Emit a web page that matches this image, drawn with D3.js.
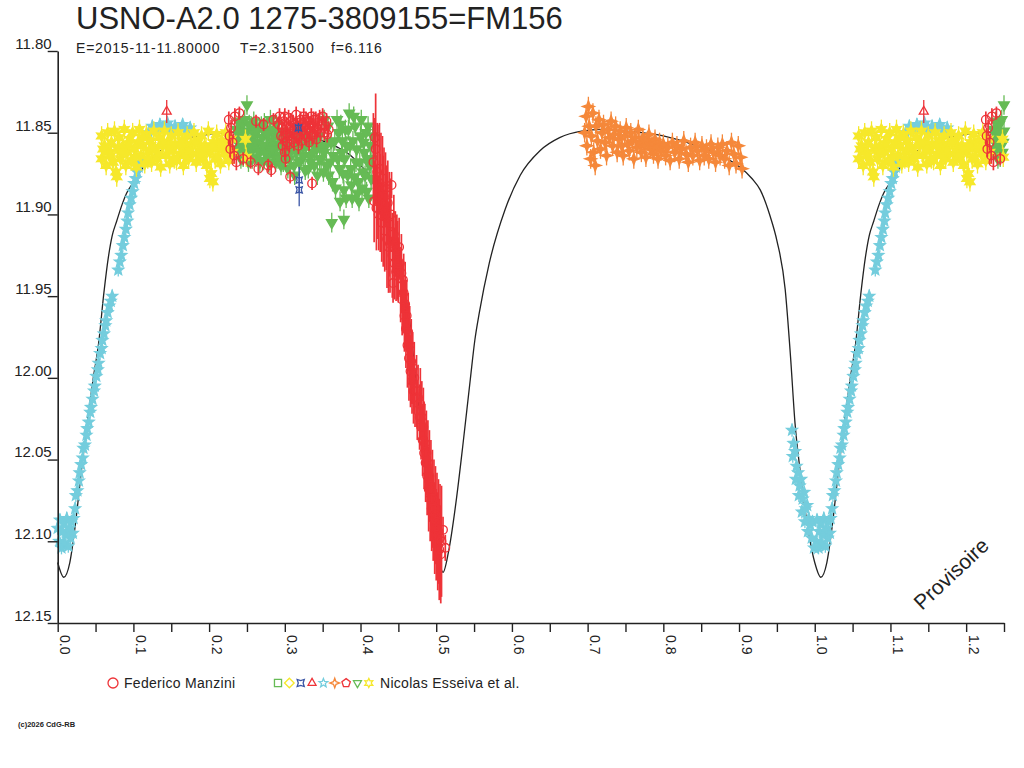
<!DOCTYPE html>
<html><head><meta charset="utf-8">
<script src="https://cdn.jsdelivr.net/npm/d3@7"></script>
<style>
body{margin:0;background:#fff}
svg{display:block}
text{font-family:"Liberation Sans",Arial,sans-serif;fill:#222}
</style>
</head><body>
<svg id="chart" width="1024" height="768"></svg>
<script>
// ---------------- DATA ----------------
const titleText = "USNO-A2.0 1275-3809155=FM156";
const subtitleParts = ["E=2015-11-11.80000", "T=2.31500", "f=6.116"];
const watermark = "Provisoire";
const copyright = "(c)2026 CdG-RB";

const yTickValues = [11.80, 11.85, 11.90, 11.95, 12.00, 12.05, 12.10, 12.15];
const yTickLabels = ["11.80", "11.85", "11.90", "11.95", "12.00", "12.05", "12.10", "12.15"];
const xTickValues = [0, 0.05, 0.1, 0.15, 0.2, 0.25, 0.3, 0.35, 0.4, 0.45, 0.5, 0.55, 0.6, 0.65, 0.7, 0.75, 0.8, 0.85, 0.9, 0.95, 1.0, 1.05, 1.1, 1.15, 1.2, 1.25];
const xLabelValues = [0, 0.1, 0.2, 0.3, 0.4, 0.5, 0.6, 0.7, 0.8, 0.9, 1.0, 1.1, 1.2];
const xTickLabels = ["0.0", "0.1", "0.2", "0.3", "0.4", "0.5", "0.6", "0.7", "0.8", "0.9", "1.0", "1.1", "1.2"];

const legendObserver1 = "Federico Manzini";
const legendObserver2 = "Nicolas Esseiva et al.";
const legendSymbols2 = ["square", "diamond", "xbox", "triUp", "star5", "cdiamond", "pentagon", "triDown", "star6"];

// model light curve [phase, mag]
const modelCurve = [
[0.000,12.113],[0.008,12.122],[0.016,12.113],[0.023,12.091],[0.032,12.054],[0.040,12.024],[0.047,12.000],
[0.054,11.979],[0.061,11.948],[0.067,11.926],[0.072,11.913],[0.078,11.904],[0.085,11.894],[0.091,11.887],
[0.099,11.881],[0.115,11.870],[0.130,11.863],[0.150,11.857],[0.175,11.853],[0.200,11.851],[0.225,11.850],
[0.250,11.849],[0.275,11.849],[0.300,11.850],[0.325,11.852],[0.350,11.855],[0.370,11.859],[0.387,11.864],
[0.400,11.870],[0.413,11.877],[0.425,11.892],[0.440,11.915],[0.452,11.935],[0.465,11.965],[0.473,12.001],
[0.483,12.042],[0.491,12.073],[0.502,12.107],[0.509,12.119],[0.516,12.107],[0.527,12.073],[0.535,12.042],
[0.545,12.001],[0.551,11.977],[0.557,11.960],[0.570,11.930],[0.591,11.897],[0.611,11.876],[0.637,11.861],
[0.663,11.853],[0.692,11.849],[0.720,11.848],[0.750,11.849],[0.800,11.852],[0.850,11.859],[0.884,11.866],
[0.901,11.871],[0.917,11.878],[0.928,11.885],[0.941,11.901],[0.950,11.916],[0.961,11.946],[0.968,11.987],
[0.974,12.028],[0.981,12.058],[0.992,12.095],[1.000,12.113]
];

// Federico Manzini (red circles) [phase, mag, err]
const manziniPts = [
[0.226,11.842,0.005],[0.227,11.852,0.005],[0.228,11.860,0.005],[0.229,11.847,0.005],[0.231,11.856,0.005],
[0.233,11.864,0.005],[0.234,11.840,0.005],[0.236,11.868,0.005],[0.240,11.838,0.004],[0.262,11.843,0.004],
[0.272,11.845,0.004],[0.285,11.842,0.004],[0.245,11.866,0.004],[0.255,11.868,0.004],[0.265,11.872,0.004],
[0.278,11.870,0.004],
[0.292,11.845,0.005],[0.295,11.852,0.005],[0.297,11.858,0.005],[0.299,11.843,0.005],[0.301,11.850,0.005],
[0.303,11.856,0.005],[0.305,11.841,0.005],[0.307,11.848,0.005],[0.309,11.854,0.005],[0.311,11.844,0.005],
[0.313,11.850,0.005],[0.315,11.839,0.005],[0.317,11.846,0.005],[0.319,11.852,0.005],[0.321,11.842,0.005],
[0.323,11.849,0.005],[0.325,11.840,0.005],[0.327,11.846,0.005],[0.329,11.853,0.005],[0.331,11.843,0.005],
[0.333,11.849,0.005],[0.335,11.840,0.005],[0.337,11.846,0.005],[0.339,11.851,0.005],[0.341,11.842,0.005],
[0.343,11.848,0.005],[0.346,11.841,0.005],[0.349,11.845,0.005],[0.352,11.850,0.005],[0.355,11.843,0.005],
[0.358,11.848,0.005],[0.300,11.862,0.005],[0.301,11.866,0.005],[0.307,11.877,0.004],[0.336,11.881,0.004],
[0.282,11.873,0.004],
[0.293,11.840,0.005],[0.296,11.847,0.005],[0.298,11.853,0.005],[0.300,11.840,0.005],[0.302,11.846,0.005],
[0.304,11.851,0.005],[0.306,11.857,0.005],[0.308,11.843,0.005],[0.310,11.849,0.005],[0.312,11.856,0.005],
[0.314,11.845,0.005],[0.316,11.852,0.005],[0.318,11.858,0.005],[0.320,11.846,0.005],[0.322,11.855,0.005],
[0.324,11.844,0.005],[0.326,11.851,0.005],[0.328,11.842,0.005],[0.330,11.848,0.005],[0.332,11.856,0.005],
[0.334,11.845,0.005],[0.336,11.852,0.005],[0.338,11.842,0.005],[0.340,11.848,0.005],[0.342,11.854,0.005],
[0.344,11.844,0.005],[0.347,11.850,0.005],[0.350,11.840,0.005],[0.353,11.846,0.005],[0.356,11.851,0.005],
[0.417,11.868,0.030],[0.418,11.892,0.025],[0.419,11.853,0.012],[0.420,11.860,0.034],[0.421,11.896,0.026],[0.422,11.874,0.030],
[0.423,11.880,0.035],[0.424,11.900,0.022],[0.425,11.872,0.028],[0.426,11.893,0.030],[0.427,11.884,0.034],[0.428,11.905,0.024],
[0.429,11.878,0.026],[0.430,11.898,0.034],[0.431,11.889,0.030],[0.432,11.910,0.025],[0.433,11.884,0.022],[0.434,11.902,0.032],
[0.435,11.915,0.030],[0.436,11.893,0.026],[0.437,11.920,0.028],[0.438,11.906,0.032],[0.439,11.918,0.030],[0.440,11.900,0.022],
[0.441,11.882,0.008],[0.442,11.925,0.026],[0.443,11.920,0.012],[0.443,11.942,0.012],[0.444,11.912,0.024],[0.445,11.930,0.022],
[0.446,11.918,0.020],[0.447,11.935,0.018],[0.448,11.922,0.022],[0.449,11.928,0.024],[0.450,11.934,0.020],[0.451,11.920,0.018],
[0.452,11.930,0.010],[0.453,11.944,0.022],[0.454,11.936,0.024],[0.455,11.952,0.022],[0.456,11.940,0.012],[0.457,11.948,0.024],
[0.458,11.962,0.022],[0.459,11.955,0.026],[0.460,11.970,0.024],[0.461,11.962,0.022],[0.462,11.980,0.026],[0.463,11.972,0.024],
[0.464,11.988,0.026],[0.465,11.980,0.024],[0.466,11.996,0.022],[0.467,11.990,0.026],[0.468,12.002,0.020],[0.469,11.994,0.022],
[0.470,12.008,0.020],[0.471,12.000,0.022],[0.472,12.012,0.018],[0.474,12.008,0.022],[0.475,12.020,0.018],[0.476,12.012,0.020],
[0.478,12.024,0.020],[0.479,12.016,0.022],[0.480,12.030,0.020],[0.481,12.024,0.022],[0.482,12.038,0.022],[0.483,12.030,0.024],
[0.484,12.046,0.022],[0.485,12.040,0.024],[0.486,12.052,0.024],[0.487,12.046,0.026],[0.488,12.060,0.024],[0.489,12.052,0.026],
[0.490,12.068,0.026],[0.491,12.060,0.028],[0.492,12.074,0.026],[0.493,12.066,0.028],[0.494,12.080,0.026],[0.495,12.074,0.030],
[0.496,12.086,0.026],[0.497,12.080,0.030],[0.498,12.092,0.028],[0.499,12.084,0.030],[0.500,12.096,0.028],[0.501,12.088,0.030],
[0.502,12.100,0.030],[0.503,12.094,0.032],[0.504,12.105,0.031],[0.505,12.098,0.033],[0.506,12.108,0.030],[0.507,12.100,0.034],
[0.509,12.093,0.008],[0.512,12.104,0.008]
];

// Esseiva et al. yellow six-point stars [phase, mag]
const yellowPts = [
[0.058,11.852],[0.058,11.866],[0.062,11.858],[0.064,11.870],[0.066,11.850],[0.068,11.862],[0.071,11.856],
[0.073,11.868],[0.075,11.849],[0.077,11.874],[0.079,11.860],[0.081,11.853],[0.083,11.866],[0.086,11.858],
[0.088,11.848],[0.090,11.870],[0.092,11.862],[0.095,11.854],[0.097,11.867],[0.099,11.850],[0.101,11.860],
[0.104,11.871],[0.106,11.856],[0.108,11.848],[0.110,11.864],[0.113,11.858],[0.115,11.869],[0.117,11.851],
[0.120,11.862],[0.122,11.855],[0.124,11.868],[0.127,11.849],[0.129,11.860],[0.131,11.866],[0.134,11.853],
[0.136,11.871],[0.138,11.858],[0.141,11.849],[0.143,11.864],[0.145,11.856],[0.148,11.869],[0.150,11.852],
[0.152,11.861],[0.155,11.857],[0.157,11.867],[0.159,11.850],[0.162,11.863],[0.164,11.855],[0.166,11.870],
[0.169,11.859],[0.171,11.852],[0.173,11.866],[0.176,11.857],[0.178,11.863],[0.180,11.850],[0.183,11.868],
[0.185,11.855],[0.187,11.861],[0.190,11.852],[0.192,11.866],[0.194,11.858],[0.197,11.870],[0.199,11.849],
[0.201,11.862],[0.203,11.875],[0.206,11.856],[0.208,11.866],[0.210,11.851],[0.213,11.860],[0.215,11.869],
[0.217,11.855],[0.220,11.863],[0.222,11.850],[0.224,11.858],[0.226,11.867],[0.229,11.854],[0.231,11.862],
[0.201,11.878],[0.205,11.880],[0.078,11.877],[0.248,11.854],[0.249,11.865],
[0.060,11.860],[0.070,11.864],[0.085,11.862],[0.094,11.857],[0.103,11.865],[0.112,11.853],[0.119,11.866],
[0.126,11.859],[0.133,11.863],[0.140,11.856],[0.147,11.861],[0.154,11.866],[0.161,11.858],[0.168,11.864],
[0.175,11.861],[0.182,11.856],[0.189,11.864],[0.196,11.860],[0.204,11.858],[0.211,11.865],[0.218,11.859],
[0.225,11.862]
];

// Esseiva et al. cyan five-point stars [phase, mag]
const cyanPts = [
[0.000,12.092],[0.002,12.100],[0.003,12.087],[0.005,12.104],[0.006,12.094],[0.008,12.089],[0.009,12.101],
[0.011,12.096],[0.012,12.086],[0.014,12.103],[0.015,12.092],[0.017,12.098],[0.018,12.088],[0.020,12.095],
[0.021,12.086],[0.023,12.080],[0.024,12.072],[0.026,12.069],[0.028,12.063],[0.029,12.058],[0.031,12.053],
[0.033,12.049],[0.034,12.043],[0.036,12.041],[0.038,12.035],[0.039,12.031],[0.041,12.027],[0.043,12.021],
[0.044,12.018],[0.046,12.013],[0.048,12.008],[0.049,12.005],[0.051,11.999],[0.053,11.995],[0.054,11.991],
[0.056,11.985],[0.058,11.982],[0.059,11.977],[0.061,11.973],[0.063,11.968],[0.064,11.965],[0.066,11.960],
[0.068,11.956],[0.070,11.953],[0.072,11.950],
[0.080,11.934],[0.082,11.929],[0.084,11.925],[0.086,11.919],[0.088,11.914],[0.090,11.909],[0.092,11.904],
[0.093,11.899],[0.095,11.894],[0.097,11.890],[0.099,11.886],[0.101,11.881],[0.103,11.878],[0.105,11.874],
[0.107,11.871],[0.109,11.868],[0.112,11.866],
[0.120,11.850],[0.125,11.846],[0.130,11.848],[0.135,11.845],[0.140,11.847],[0.145,11.844],[0.150,11.848],
[0.155,11.846],[0.160,11.849],[0.165,11.845],[0.170,11.848],[0.175,11.847],
[0.970,12.032],[0.972,12.040],[0.971,12.048],[0.974,12.045],[0.976,12.054],[0.975,12.062],[0.978,12.058],
[0.980,12.066],[0.979,12.072],[0.982,12.062],[0.984,12.074],[0.983,12.082],[0.986,12.070],[0.988,12.080],
[0.987,12.088],[0.990,12.078],[0.992,12.086],[0.991,12.094],[0.994,12.090],[0.996,12.098],[0.997,12.088],
[0.999,12.104]
];

// Esseiva et al. green inverted triangles [phase, mag]
const greenPts = [
[0.236,11.848],[0.238,11.860],[0.240,11.852],[0.242,11.866],[0.244,11.845],[0.246,11.857],[0.248,11.862],
[0.250,11.849],[0.252,11.868],[0.254,11.854],[0.256,11.846],[0.258,11.860],[0.260,11.851],[0.262,11.865],
[0.264,11.856],[0.266,11.847],[0.268,11.861],[0.270,11.853],[0.272,11.867],[0.274,11.850],[0.276,11.858],
[0.278,11.864],[0.280,11.848],[0.282,11.855],[0.284,11.862],[0.286,11.852],[0.288,11.868],[0.290,11.858],
[0.292,11.850],[0.294,11.864],[0.296,11.856],[0.298,11.868],[0.300,11.860],[0.303,11.852],[0.306,11.866],
[0.309,11.858],[0.312,11.870],[0.315,11.862],[0.318,11.854],[0.321,11.867],[0.324,11.859],[0.327,11.873],
[0.330,11.851],[0.333,11.864],[0.336,11.856],[0.339,11.870],[0.342,11.860],[0.345,11.852],[0.348,11.866],
[0.351,11.874],[0.354,11.858],[0.357,11.846],[0.360,11.868],[0.363,11.880],[0.366,11.855],[0.369,11.842],
[0.372,11.872],[0.375,11.862],[0.378,11.885],[0.380,11.848],[0.383,11.876],[0.386,11.858],[0.389,11.890],
[0.391,11.840],[0.394,11.868],[0.397,11.880],[0.400,11.852],[0.403,11.874],[0.405,11.862],[0.408,11.886],
[0.410,11.846],[0.412,11.870],[0.414,11.878],[0.362,11.905],[0.378,11.903],[0.250,11.833],[0.352,11.842],
[0.385,11.838],[0.398,11.892],
[0.237,11.855],[0.239,11.843],[0.241,11.858],[0.243,11.850],[0.245,11.865],[0.247,11.842],[0.249,11.856],
[0.251,11.861],[0.253,11.845],[0.255,11.858],[0.257,11.866],[0.259,11.843],[0.261,11.856],[0.263,11.849],
[0.265,11.861],[0.267,11.868],[0.269,11.846],[0.271,11.858],[0.273,11.844],[0.275,11.863],[0.277,11.851],
[0.279,11.869],[0.281,11.842],[0.283,11.860],[0.285,11.848],[0.287,11.865],[0.289,11.845],[0.291,11.866],
[0.293,11.857],[0.295,11.870],[0.297,11.849],[0.299,11.864],
[0.302,11.858],[0.304,11.872],[0.307,11.862],[0.310,11.851],[0.313,11.876],[0.316,11.857],[0.319,11.868],
[0.322,11.853],[0.325,11.864],[0.328,11.858],[0.331,11.872],[0.334,11.868],[0.337,11.862],[0.340,11.854],
[0.343,11.876],[0.346,11.866],[0.349,11.858],[0.352,11.862],[0.355,11.870],[0.358,11.876],[0.361,11.856],
[0.364,11.864],
[0.367,11.884],[0.370,11.866],[0.371,11.850],[0.373,11.892],[0.374,11.845],[0.376,11.855],[0.377,11.875],
[0.379,11.866],[0.381,11.890],[0.382,11.858],[0.384,11.848],[0.387,11.872],[0.388,11.882],[0.390,11.855],
[0.392,11.877],[0.393,11.846],[0.395,11.860],[0.396,11.887],[0.399,11.868],[0.401,11.842],[0.402,11.884],
[0.404,11.856],[0.406,11.876],[0.407,11.850],[0.409,11.866],[0.411,11.890],[0.413,11.858],[0.415,11.866],
[0.416,11.852]
];

// Esseiva et al. orange concave diamonds [phase, mag]
const orangePts = [
[0.696,11.850],[0.698,11.840],[0.699,11.858],[0.701,11.834],[0.702,11.846],[0.704,11.866],[0.705,11.852],
[0.707,11.838],[0.708,11.862],[0.710,11.870],[0.711,11.846],[0.713,11.855],[0.715,11.842],[0.717,11.860],
[0.719,11.850],[0.721,11.845],[0.723,11.856],[0.725,11.864],[0.727,11.848],[0.729,11.853],[0.731,11.843],
[0.733,11.858],[0.735,11.851],[0.737,11.846],[0.739,11.862],[0.741,11.854],[0.743,11.849],[0.745,11.858],
[0.747,11.864],[0.749,11.852],[0.751,11.847],[0.753,11.857],[0.755,11.861],[0.757,11.850],[0.759,11.855],
[0.761,11.866],[0.763,11.853],[0.765,11.859],[0.767,11.848],[0.769,11.856],[0.771,11.862],[0.773,11.853],
[0.775,11.858],[0.777,11.865],[0.779,11.855],[0.781,11.851],[0.783,11.860],[0.785,11.857],[0.787,11.863],
[0.789,11.854],[0.791,11.859],[0.793,11.866],[0.795,11.856],[0.797,11.861],[0.800,11.857],[0.803,11.864],
[0.806,11.859],[0.809,11.867],[0.812,11.856],[0.815,11.862],[0.818,11.858],[0.821,11.866],[0.824,11.860],
[0.827,11.855],[0.830,11.863],[0.833,11.868],[0.836,11.859],[0.839,11.864],[0.842,11.856],[0.845,11.861],
[0.848,11.867],[0.851,11.858],[0.854,11.864],[0.857,11.860],[0.860,11.866],[0.863,11.857],[0.866,11.862],
[0.869,11.868],[0.872,11.859],[0.875,11.864],[0.878,11.857],[0.881,11.866],[0.884,11.861],[0.887,11.870],
[0.890,11.856],[0.893,11.863],[0.896,11.869],[0.899,11.858],[0.902,11.865],[0.904,11.872]
];

const blueXPts = [[0.319,11.885,0.010],[0.319,11.879,0.008],[0.318,11.847,0.003]];
const redTriPts = [[0.144,11.837,0.007]];

const yellowErr = 0.006, cyanErr = 0.004, greenErr = 0.006, orangeErr = 0.006;

// ---------------- STYLE ----------------
const C = {red:"#ee3338", green:"#66bb55", yellow:"#f6e82a", cyan:"#74cddd",
           orange:"#f5883a", blue:"#3a55a5", ink:"#222"};
const legendColors2 = [C.green, C.yellow, C.blue, C.red, C.cyan, C.orange, C.red, C.green, C.yellow];

const svg = d3.select("#chart");
svg.append("rect").attr("width",1024).attr("height",768).attr("fill","#fff");

const x = d3.scaleLinear().domain([0, 1.25]).range([57.7, 1004]);
const y = d3.scaleLinear().domain([11.80, 12.15]).range([51, 623]);

// phase wrap: repeat phases 0..0.25 at 1..1.25
function wrap(pts) {
  return pts.concat(pts.filter(d => d[0] > 0 && d[0] <= 0.25).map(d => [d[0] + 1].concat(d.slice(1))));
}

// symbol paths
function poly(n, r, ri, startDeg) {
  const pts = [];
  const step = Math.PI / n;
  const a0 = startDeg * Math.PI / 180;
  for (let i = 0; i < 2 * n; i++) {
    if (ri == null && i % 2 === 1) continue;
    const rr = (i % 2 === 0) ? r : ri;
    const a = a0 + i * step;
    pts.push([rr * Math.cos(a), rr * Math.sin(a)]);
  }
  return "M" + pts.map(p => p[0].toFixed(2) + "," + p[1].toFixed(2)).join("L") + "Z";
}
function shapePath(name, r) {
  switch (name) {
    case "circle": return d3.arc()({innerRadius:0, outerRadius:r, startAngle:0, endAngle:2*Math.PI});
    case "square": return poly(4, r * 1.25, null, -45);
    case "diamond": return poly(4, r * 1.2, null, -90);
    case "xbox": return poly(4, r * 1.25, r * 0.6, -45);
    case "triUp": return poly(3, r * 1.15, null, -90);
    case "triDown": return poly(3, r * 1.15, null, 90);
    case "star5": return poly(5, r * 1.15, r * 0.5, -90);
    case "cdiamond": return poly(4, r * 1.2, r * 0.45, -90);
    case "pentagon": return poly(5, r * 1.1, null, -90);
    case "star6": return poly(6, r * 1.15, r * 0.6, -90);
  }
}

// ---------------- MODEL CURVE ----------------
const modelFull = wrap(modelCurve).sort((a, b) => a[0] - b[0]);
svg.append("path")
  .attr("d", d3.line().curve(d3.curveMonotoneX).x(d => x(d[0])).y(d => y(d[1]))(modelFull))
  .attr("fill", "none").attr("stroke", C.ink).attr("stroke-width", 1.3);

// ---------------- SERIES ----------------
function drawSeries(pts, shape, color, r, errDefault, filled, barW) {
  const data = wrap(pts);
  const g = svg.append("g");
  g.selectAll("line").data(data).join("line")
    .attr("x1", d => x(d[0])).attr("x2", d => x(d[0]))
    .attr("y1", d => y(d[1] - (d[2] != null ? d[2] : errDefault)))
    .attr("y2", d => y(d[1] + (d[2] != null ? d[2] : errDefault)))
    .attr("stroke", color).attr("stroke-width", barW || 1.3);
  g.selectAll("path").data(data).join("path")
    .attr("transform", d => `translate(${x(d[0])},${y(d[1])})`)
    .attr("d", shapePath(shape, r))
    .attr("fill", filled ? color : "none")
    .attr("stroke", color).attr("stroke-width", 1.3);
}

drawSeries(cyanPts, "star5", C.cyan, 5, cyanErr, true);
drawSeries(greenPts, "triDown", C.green, 5.3, greenErr, true);
drawSeries(yellowPts, "star6", C.yellow, 5, yellowErr, true);
drawSeries(manziniPts, "circle", C.red, 4.3, 0.005, false, 1.7);
drawSeries(orangePts, "cdiamond", C.orange, 5, orangeErr, true);
drawSeries(blueXPts, "xbox", C.blue, 3.5, 0.005, false);
drawSeries(redTriPts, "triUp", C.red, 4.5, 0.005, false);

// ---------------- AXES ----------------
const yAxis = svg.append("g").attr("transform", `translate(${x(0)},0)`)
  .call(d3.axisLeft(y).tickValues(yTickValues).tickSize(10).tickSizeOuter(0)
        .tickFormat((d, i) => yTickLabels[i]));
yAxis.select(".domain").attr("stroke", C.ink).attr("stroke-width", 1.6);
yAxis.selectAll(".tick line").attr("stroke", C.ink).attr("stroke-width", 1.4);
yAxis.selectAll(".tick text").attr("x", -6).attr("dy", "-0.18em")
  .attr("font-size", 15).attr("font-family", "Liberation Sans, Arial, sans-serif")
  .attr("fill", C.ink);

const xAxis = svg.append("g").attr("transform", `translate(0,${y(12.15)})`)
  .call(d3.axisBottom(x).tickValues(xTickValues).tickSize(9).tickSizeOuter(0)
        .tickFormat(d => {
          const k = xLabelValues.findIndex(v => Math.abs(v - d) < 1e-9);
          return k >= 0 ? xTickLabels[k] : "";
        }));
xAxis.select(".domain").attr("stroke", C.ink).attr("stroke-width", 1.6);
xAxis.selectAll(".tick line").attr("stroke", C.ink).attr("stroke-width", 1.4);
xAxis.selectAll(".tick text")
  .attr("x", 0).attr("y", 0).attr("dy", 0)
  .attr("text-anchor", "start")
  .attr("transform", "translate(2,12) rotate(90)")
  .attr("font-size", 14).attr("font-family", "Liberation Sans, Arial, sans-serif")
  .attr("fill", C.ink);

// ---------------- TEXTS ----------------
svg.append("text").attr("x", 76).attr("y", 29).attr("font-size", 31).text(titleText);
const subX = [76, 240, 331];
subtitleParts.forEach((t, i) => {
  svg.append("text").attr("x", subX[i]).attr("y", 53).attr("font-size", 14)
    .attr("letter-spacing", 0.8).text(t);
});

svg.append("text").attr("transform", "translate(922,611) rotate(-43)")
  .attr("font-size", 21).text(watermark);

// legend
svg.append("path").attr("transform", "translate(113,683)").attr("d", shapePath("circle", 5))
  .attr("fill", "none").attr("stroke", C.red).attr("stroke-width", 1.3);
svg.append("text").attr("x", 124).attr("y", 688).attr("font-size", 14)
  .attr("letter-spacing", 0.3).text(legendObserver1);
legendSymbols2.forEach((s, i) => {
  svg.append("path").attr("transform", `translate(${278 + i * 11.35},683)`)
    .attr("d", shapePath(s, 4)).attr("fill", "none")
    .attr("stroke", legendColors2[i]).attr("stroke-width", 1.3);
});
svg.append("text").attr("x", 380).attr("y", 688).attr("font-size", 14)
  .attr("letter-spacing", 0.3).text(legendObserver2);

svg.append("text").attr("x", 18).attr("y", 727).attr("font-size", 7.5)
  .attr("font-weight", "bold").text(copyright);
</script>
</body></html>
